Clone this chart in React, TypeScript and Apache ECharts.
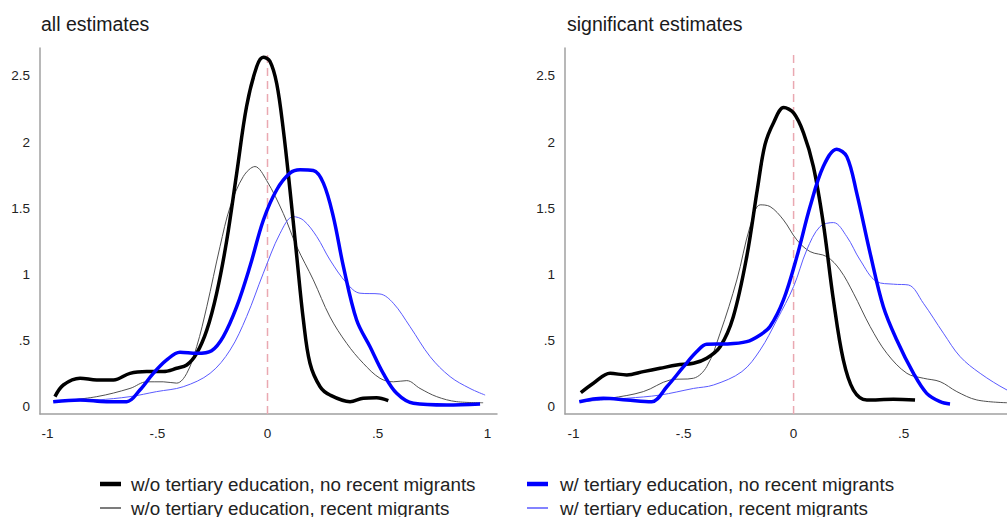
import React, { useEffect, useRef } from "react";
import * as echarts from "echarts";

const seriesNames = [
  "w/o tertiary education, no recent migrants",
  "w/o tertiary education, recent migrants",
  "w/ tertiary education, no recent migrants",
  "w/ tertiary education, recent migrants",
];
const panelTitles = ["all estimates", "significant estimates"];
const xTicks = [-1, -0.5, 0, 0.5, 1];
const yTicks = [0, 0.5, 1, 1.5, 2, 2.5];
const refLine: [number, number][] = [
  [0, -0.053],
  [0, 2.67],
];

// ---- all estimates ----
const allNoTertNoMig: [number, number][] = [
  [-0.966, 0.078], [-0.928, 0.166], [-0.852, 0.217], [-0.776, 0.204], [-0.7, 0.204],
  [-0.625, 0.254], [-0.549, 0.267], [-0.474, 0.267], [-0.413, 0.292], [-0.367, 0.317],
  [-0.322, 0.405], [-0.276, 0.58], [-0.231, 0.86], [-0.185, 1.26], [-0.14, 1.765],
  [-0.095, 2.27], [-0.049, 2.57], [-0.019, 2.64], [0.011, 2.61], [0.042, 2.44],
  [0.072, 2.09], [0.102, 1.64], [0.133, 1.135], [0.163, 0.657], [0.193, 0.33],
  [0.239, 0.153], [0.284, 0.09], [0.375, 0.04], [0.435, 0.066], [0.496, 0.07], [0.549, 0.048],
];
const allNoTertMig: [number, number][] = [
  [-0.966, 0.04], [-0.776, 0.078], [-0.625, 0.14], [-0.549, 0.19], [-0.474, 0.19],
  [-0.413, 0.18], [-0.367, 0.254], [-0.322, 0.455], [-0.276, 0.757], [-0.216, 1.21],
  [-0.17, 1.51], [-0.11, 1.74], [-0.057, 1.815], [-0.004, 1.71], [0.072, 1.46],
  [0.133, 1.21], [0.208, 0.96], [0.284, 0.68], [0.36, 0.48], [0.435, 0.33],
  [0.511, 0.217], [0.572, 0.19], [0.633, 0.199], [0.693, 0.14], [0.769, 0.078],
  [0.86, 0.04], [0.98, 0.032],
];
const allTertNoMig: [number, number][] = [
  [-0.974, 0.04], [-0.852, 0.053], [-0.731, 0.04], [-0.64, 0.04], [-0.58, 0.128],
  [-0.519, 0.254], [-0.458, 0.355], [-0.398, 0.413], [-0.322, 0.405], [-0.254, 0.425],
  [-0.201, 0.531], [-0.14, 0.757], [-0.08, 1.06], [-0.019, 1.41], [0.042, 1.64],
  [0.102, 1.765], [0.148, 1.79], [0.208, 1.785], [0.254, 1.69], [0.299, 1.437],
  [0.345, 1.06], [0.405, 0.657], [0.466, 0.455], [0.526, 0.254], [0.587, 0.103],
  [0.663, 0.028], [0.815, 0.015], [0.966, 0.023],
];
const allTertMig: [number, number][] = [
  [-0.974, 0.04], [-0.776, 0.053], [-0.625, 0.078], [-0.504, 0.116], [-0.383, 0.153],
  [-0.261, 0.254], [-0.17, 0.43], [-0.095, 0.682], [-0.019, 1.01], [0.057, 1.31],
  [0.117, 1.437], [0.163, 1.41], [0.224, 1.286], [0.284, 1.11], [0.36, 0.934],
  [0.42, 0.859], [0.511, 0.853], [0.572, 0.783], [0.648, 0.606], [0.739, 0.38],
  [0.83, 0.229], [0.92, 0.14], [0.989, 0.09],
];

// ---- significant estimates ----
const sigNoTertNoMig: [number, number][] = [
  [-0.967, 0.108], [-0.91, 0.179], [-0.834, 0.254], [-0.758, 0.242], [-0.683, 0.267],
  [-0.607, 0.292], [-0.531, 0.317], [-0.455, 0.33], [-0.395, 0.368], [-0.334, 0.455],
  [-0.274, 0.682], [-0.213, 1.135], [-0.165, 1.64], [-0.13, 1.98], [-0.09, 2.15],
  [-0.045, 2.26], [0.0, 2.22], [0.045, 2.07], [0.09, 1.815], [0.135, 1.387],
  [0.181, 0.808], [0.226, 0.355], [0.272, 0.128], [0.333, 0.053], [0.454, 0.058], [0.552, 0.053],
];
const sigNoTertMig: [number, number][] = [
  [-0.967, 0.04], [-0.834, 0.066], [-0.683, 0.116], [-0.561, 0.204], [-0.455, 0.217],
  [-0.395, 0.304], [-0.334, 0.557], [-0.258, 0.959], [-0.198, 1.362], [-0.152, 1.526],
  [-0.107, 1.513], [-0.046, 1.412], [0.015, 1.261], [0.075, 1.173], [0.151, 1.135],
  [0.211, 1.035], [0.272, 0.859], [0.348, 0.607], [0.424, 0.405], [0.515, 0.254],
  [0.59, 0.217], [0.666, 0.191], [0.742, 0.116], [0.833, 0.053], [0.97, 0.032],
];
const sigTertNoMig: [number, number][] = [
  [-0.974, 0.04], [-0.865, 0.066], [-0.758, 0.053], [-0.645, 0.04], [-0.576, 0.153],
  [-0.5, 0.304], [-0.44, 0.418], [-0.395, 0.474], [-0.304, 0.476], [-0.213, 0.493],
  [-0.152, 0.544], [-0.107, 0.607], [-0.046, 0.808], [0.015, 1.135], [0.075, 1.513],
  [0.135, 1.815], [0.196, 1.946], [0.242, 1.89], [0.287, 1.614], [0.348, 1.16],
  [0.408, 0.757], [0.469, 0.506], [0.545, 0.254], [0.605, 0.103], [0.666, 0.04], [0.711, 0.023],
];
const sigTertMig: [number, number][] = [
  [-0.974, 0.04], [-0.758, 0.066], [-0.607, 0.09], [-0.455, 0.14], [-0.364, 0.166],
  [-0.235, 0.267], [-0.152, 0.43], [-0.076, 0.657], [0.0, 0.909], [0.06, 1.186],
  [0.12, 1.362], [0.181, 1.392], [0.242, 1.286], [0.302, 1.11], [0.378, 0.946],
  [0.454, 0.927], [0.522, 0.921], [0.59, 0.783], [0.681, 0.557], [0.757, 0.38],
  [0.848, 0.254], [0.97, 0.128], [1.02, 0.1],
];

const FONT = "'Liberation Sans', Arial, sans-serif";
const colors = ["#000000", "#505050", "#0000ff", "#5a5aff"];
const widths = [3.5, 1, 3.5, 1];
const legendWidths = [4.5, 1.5, 4.5, 1.5];

const fmt = (v: number) => {
  if (v === 0) return "0";
  const s = String(v);
  return s.replace(/^0\./, ".").replace(/^-0\./, "-.");
};

export default function App() {
  const ref = useRef<HTMLDivElement>(null);
  useEffect(() => {
    if (!ref.current) return;
    const chart = echarts.init(ref.current, undefined, { renderer: "svg" });
    const panels = [
      [allNoTertNoMig, allNoTertMig, allTertNoMig, allTertMig],
      [sigNoTertNoMig, sigNoTertMig, sigTertNoMig, sigTertMig],
    ];
    const grids = [
      { left: 40, top: 48, width: 457, height: 366 },
      { left: 565, top: 48, width: 442, height: 366 },
    ];
    const xRanges = [
      [-1.034, 1.043],
      [-1.039, 0.97],
    ];
    const series: any[] = [];
    panels.forEach((p, pi) => {
      series.push({
        type: "line",
        name: "ref",
        xAxisIndex: pi,
        yAxisIndex: pi,
        data: refLine,
        symbol: "none",
        silent: true,
        z: 1,
        lineStyle: { color: "#eaa8b1", type: [8, 5], width: 1.5 },
      });
      p.forEach((data, si) => {
        series.push({
          type: "line",
          name: seriesNames[si],
          xAxisIndex: pi,
          yAxisIndex: pi,
          data,
          smooth: 0.35,
          symbol: "none",
          lineStyle: { color: colors[si], width: widths[si] },
          itemStyle: { color: colors[si] },
          z: si === 0 || si === 2 ? 3 : 2,
        });
      });
    });
    const axisLine = { show: true, onZero: false, lineStyle: { color: "#a0a0a0", width: 1.5 } };

    const legendCols = [
      { iconX: 100, textX: 131 },
      { iconX: 527, textX: 560 },
    ];
    const legendRows = [484, 508];
    const graphic: any[] = [];
    seriesNames.forEach((name, k) => {
      const col = legendCols[k < 2 ? 0 : 1];
      const y = legendRows[k % 2];
      graphic.push({
        type: "line",
        shape: { x1: col.iconX, y1: y, x2: col.iconX + 21, y2: y },
        style: { stroke: colors[k], lineWidth: legendWidths[k] },
        silent: true,
      });
      graphic.push({
        type: "text",
        x: col.textX,
        y,
        style: {
          text: name,
          fill: "#222",
          font: `18.8px ${FONT}`,
          verticalAlign: "middle",
          align: "left",
        },
        silent: true,
      });
    });

    chart.setOption({
      animation: false,
      backgroundColor: "#ffffff",
      textStyle: { fontFamily: FONT },
      title: panelTitles.map((t, i) => ({
        text: t,
        left: i === 0 ? 36 : 562,
        top: 9,
        textStyle: { fontSize: 19.5, fontWeight: "normal", color: "#1a1a1a", fontFamily: FONT },
      })),
      grid: grids,
      xAxis: grids.map((_, i) => ({
        type: "value",
        gridIndex: i,
        min: xRanges[i][0],
        max: xRanges[i][1],
        axisLine,
        axisTick: { show: false },
        splitLine: { show: false },
        axisLabel: {
          customValues: xTicks.filter((t) => t <= xRanges[i][1]),
          formatter: (v: number) => fmt(v),
          fontSize: 13.5,
          color: "#222",
          margin: 12,
          fontFamily: FONT,
        },
      })),
      yAxis: grids.map((_, i) => ({
        type: "value",
        gridIndex: i,
        min: -0.053,
        max: 2.71,
        axisLine,
        axisTick: { show: false },
        splitLine: { show: false },
        axisLabel: {
          customValues: yTicks,
          formatter: (v: number) => fmt(v),
          fontSize: 13.5,
          color: "#222",
          margin: 10,
          fontFamily: FONT,
        },
      })),
      graphic,
      series,
    });
    return () => chart.dispose();
  }, []);
  return (
    <div
      ref={ref}
      style={{ position: "fixed", left: 0, top: 0, width: 1007, height: 517, background: "#fff" }}
    />
  );
}
